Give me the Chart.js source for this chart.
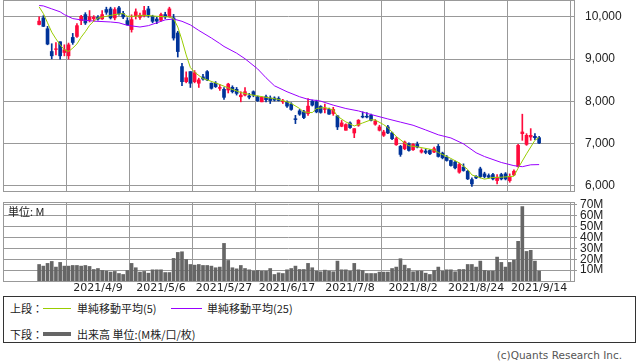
<!DOCTYPE html>
<html>
<head>
<meta charset="utf-8">
<script src="https://cdn.jsdelivr.net/npm/chart.js@4.4.0/dist/chart.umd.min.js"></script>
<style>
body{margin:0;background:#fff;width:638px;height:362px;position:relative;overflow:hidden;font-family:"Noto Sans CJK JP","Noto Sans",sans-serif;}
canvas{position:absolute;left:0;}
#c1{top:0;}
#c2{top:196px;}
.t{position:absolute;font-size:11px;line-height:12px;color:#222;white-space:nowrap;}
.ln{position:absolute;}
#box{position:absolute;left:3px;top:296px;width:631px;height:45px;border:1px solid #333;}
</style>
</head>
<body>
<canvas id="c1" width="638" height="195"></canvas>
<canvas id="c2" width="638" height="100"></canvas>
<div class="t" style="left:8px;top:205px;">単位: M</div>
<div id="box"></div>
<div class="t" style="left:10px;top:302px;">上段：</div>
<div class="ln" style="left:43px;top:308px;width:28px;height:1px;background:#99cc00;"></div>
<div class="t" style="left:77px;top:302px;">単純移動平均(5)</div>
<div class="ln" style="left:171px;top:308px;width:31px;height:1px;background:#9900ff;"></div>
<div class="t" style="left:207px;top:302px;">単純移動平均(25)</div>
<div class="t" style="left:10px;top:328px;">下段：</div>
<div class="ln" style="left:43px;top:332px;width:28px;height:4px;background:#666;"></div>
<div class="t" style="left:77px;top:328px;">出来高 単位:(M株/口/枚)</div>
<div class="t" style="right:16px;top:349px;color:#555;font-family:'DejaVu Sans',sans-serif;font-size:10.5px;">(c)Quants Research Inc.</div>
<script>
// 日付ラベル (15営業日ごと)
const tickIdx = [14, 29, 44, 59, 74, 89, 104, 119];
const tickLabels = ['2021/4/9', '2021/5/6', '2021/5/27', '2021/6/17', '2021/7/8', '2021/8/2', '2021/8/24', '2021/9/14'];
const priceTicks = [6000, 7000, 8000, 9000, 10000];
const volTicks = [10, 20, 30, 40, 50, 60, 70];

// 四本値
const opens = [9820,9976,9720,9181,9230,9412,9158,9079,9514,9538,9912,10055,9920,9960,9990,9952,10174,10190,9976,10214,
  10080,9912,9700,10031,9990,10031,10190,10014,9950,9920,10055,10014,9976,9620,8824,8467,8705,8467,8430,8580,
  8705,8430,8430,8310,8286,8270,8333,8286,8110,8150,8130,8230,8110,7990,8110,8080,8080,8070,7990,7990,
  7936,7590,7777,7753,7713,8007,7991,7880,7810,7810,7713,7658,7412,7317,7491,7253,7436,7650,7650,7674,
  7460,7317,7198,7396,7253,6975,6936,6880,7000,6856,6983,6801,6825,6840,6801,6936,6777,6682,6602,6563,
  6325,6444,6348,6150,6222,6404,6285,6245,6269,6126,6269,6285,6126,6261,6459,7237,6983,7158,7174,7142];
const highs = [10000,10030,9776,9365,9395,9412,9340,9381,9610,9840,10040,10100,10150,10030,10030,10150,10230,10230,10220,10250,
  10130,9980,10050,10190,10090,10250,10250,10040,9990,10090,10110,10230,10060,9660,8900,8700,8705,8730,8550,8640,
  8730,8440,8470,8400,8330,8430,8370,8330,8230,8330,8190,8250,8130,8110,8150,8130,8110,8110,8050,8015,
  7970,7670,7810,7790,8070,8030,8030,7900,7935,7840,7860,7670,7550,7470,7515,7356,7570,7753,7737,7700,
  7570,7436,7317,7436,7277,7158,6960,7063,7020,7000,7039,6880,6872,6860,6920,6983,6800,6720,6618,6586,
  6539,6523,6364,6190,6245,6444,6325,6285,6300,6269,6300,6316,6285,6380,6983,7698,7237,7356,7237,7174];
const lows = [9810,9770,9340,9007,9100,9000,9079,9000,9350,9514,9817,9820,9880,9900,9920,9940,10060,9950,9930,10040,
  9960,9800,9640,9950,9940,10000,9990,9860,9840,9900,9960,9990,9450,9050,8372,8440,8330,8440,8330,8500,
  8490,8290,8330,8260,8050,8200,8200,8150,7990,8130,8060,8110,8000,7990,7990,7950,8010,8010,7950,7860,
  7790,7475,7670,7590,7670,7890,7730,7720,7730,7690,7670,7333,7400,7317,7360,7142,7412,7610,7610,7540,
  7436,7300,7170,7237,7094,6960,6700,6856,6820,6840,6900,6777,6761,6740,6790,6682,6640,6586,6467,6404,
  6300,6348,6150,5991,6174,6190,6190,6182,6142,6047,6142,6142,6087,6245,6444,7079,6960,7079,7095,6999];
const closes = [9900,9776,9357,9079,9245,9079,9222,9340,9395,9793,10014,9857,10000,9990,9950,10055,10110,9976,10174,10078,
  10000,9817,9936,10120,10040,10150,10055,9895,9900,10055,10000,10190,9500,9180,8467,8560,8430,8680,8510,8530,
  8510,8310,8350,8330,8096,8410,8230,8190,8150,8230,8100,8150,8015,8096,8040,8020,8030,8020,8010,7890,
  7810,7570,7698,7618,7888,7912,7753,7740,7830,7700,7810,7396,7491,7452,7380,7356,7555,7630,7630,7555,
  7531,7396,7277,7253,7118,7118,6745,7039,6840,6983,6920,6841,6793,6761,6880,6698,6666,6602,6483,6428,
  6507,6364,6166,6047,6190,6221,6222,6206,6166,6206,6166,6166,6221,6348,6959,7277,7198,7198,7142,7015];

// 出来高 (M)
const volumes = [15.2,13.7,16.2,18.0,12.8,17.1,13.7,13.7,14.3,14.3,13.7,14.3,13.4,10.6,11.5,9.7,9.1,8.2,8.8,6.9,
  6.0,9.7,16.2,12.2,8.2,8.8,7.2,10.3,10.3,10.3,7.8,7.8,20.8,26.3,26.9,19.8,15.2,14.6,15.2,14.3,
  14.3,13.7,12.2,12.8,34.6,18.9,12.2,11.2,14.3,11.5,10.3,9.1,9.7,9.1,9.1,11.5,6.0,7.5,6.9,10.3,
  11.5,13.7,10.6,10.6,16.2,12.2,9.1,8.5,10.0,9.1,8.5,18.3,10.3,10.3,9.1,16.2,10.3,9.7,6.9,6.9,
  6.9,8.2,8.2,8.2,11.5,12.8,20.5,14.6,11.5,8.5,9.1,9.1,7.2,6.0,9.7,12.8,9.1,10.3,10.3,8.5,
  10.6,10.6,15.2,15.2,12.8,18.3,9.7,9.1,9.1,22.0,17.1,12.8,17.1,19.2,36.5,68.5,27.2,28.2,18.3,9.1];

// 移動平均 [index, value]
const ma5 = [[0,10237],[1,10080],[2,9860],[3,9640],[4,9480],[5,9340],[6,9222],[7,9182],[8,9261],[9,9360],
  [10,9520],[11,9650],[12,9800],[13,9900],[14,9975],[16,10015],[18,10055],[20,10079],[21,10015],[23,10015],
  [25,10039],[28,10015],[31,9999],[32,9960],[33,9760],[34,9450],[35,9100],[36,8800],[37,8690],[39,8540],
  [40,8510],[43,8400],[45,8320],[48,8210],[50,8166],[52,8130],[55,8080],[57,8047],[59,7990],[60,7952],
  [62,7832],[63,7750],[65,7735],[66,7832],[68,7856],[70,7800],[71,7650],[73,7515],[75,7420],[77,7490],
  [79,7565],[80,7560],[82,7450],[83,7380],[85,7170],[87,7015],[88,6950],[90,6925],[94,6850],[95,6790],
  [98,6650],[100,6545],[102,6390],[103,6260],[106,6160],[108,6200],[110,6206],[113,6230],[114,6420],[116,6760],
  [118,7080],[119,7150]];
const ma25 = [[0,10270],[1,10260],[3,10190],[5,10120],[6,10055],[8,9960],[10,9930],[13,9900],[17,9880],[19,9860],
  [21,9800],[24,9761],[26,9793],[28,9860],[30,9930],[32,9950],[34,9896],[36,9810],[38,9680],[41,9500],
  [43,9370],[44,9300],[47,9142],[49,9010],[52,8770],[54,8560],[56,8370],[59,8229],[62,8110],[64,8050],
  [67,8007],[70,7912],[73,7832],[76,7775],[79,7690],[83,7585],[86,7510],[89,7436],[92,7325],[95,7210],
  [98,7135],[101,6995],[104,6785],[106,6695],[110,6555],[113,6480],[115,6455],[117,6500],[119,6505]];

const XMIN = -8.6, XMAX = 127.3;
const UP = '#ff0a3c', DOWN = '#003399', GRID = '#999';

const frame = {
  id: 'frame',
  beforeDatasetsDraw(chart) {
    const a = chart.chartArea, ctx = chart.ctx;
    ctx.save();
    ctx.strokeStyle = GRID;
    ctx.lineWidth = 1;
    ctx.strokeRect(Math.round(a.left) + 0.5, Math.round(a.top) + 0.5, Math.round(a.right - a.left), Math.round(a.bottom - a.top));
    ctx.restore();
  }
};

// 軸の余白を無効化して描画領域を固定する
function fixY(s) { s.width = 64; s.paddingTop = 0; s.paddingBottom = 0; }
function fixX(h) { return s => { s.height = h; s.paddingLeft = 0; s.paddingRight = 0; }; }

const colors = closes.map((c, i) => c >= opens[i] ? UP : DOWN);
const idx = closes.map((c, i) => i);

new Chart(document.getElementById('c1'), {
  type: 'bar',
  data: {
    datasets: [
      { type: 'line', data: ma5.map(p => ({x: p[0], y: p[1]})), borderColor: '#99cc00', borderWidth: 1, pointRadius: 0, tension: 0, order: 0 },
      { type: 'line', data: ma25.map(p => ({x: p[0], y: p[1]})), borderColor: '#9900ff', borderWidth: 1, pointRadius: 0, tension: 0, order: 0 },
      { data: idx.map(i => ({x: i, y: [opens[i], closes[i]]})), backgroundColor: colors, barThickness: 3, grouped: false, order: 1 },
      { data: idx.map(i => ({x: i, y: [lows[i], highs[i]]})), backgroundColor: colors, barThickness: 1, grouped: false, order: 2 }
    ]
  },
  options: {
    responsive: false,
    animation: false,
    layout: { autoPadding: false, padding: { left: 3, top: 0, right: 0, bottom: 4 } },
    plugins: { legend: { display: false }, tooltip: { enabled: false } },
    scales: {
      x: {
        type: 'linear', min: XMIN, max: XMAX, offset: false,
        afterBuildTicks: s => { s.ticks = tickIdx.map(v => ({value: v})); },
        afterFit: fixX(0),
        ticks: { display: false },
        grid: { color: GRID, drawTicks: false },
        border: { display: false }
      },
      y: {
        position: 'right', min: 5880, max: 10400,
        afterBuildTicks: s => { s.ticks = priceTicks.map(v => ({value: v})); },
        afterFit: fixY,
        ticks: { callback: v => v.toLocaleString('en-US'), color: '#222', padding: 11, autoSkip: false, font: { family: 'Liberation Sans', size: 12 } },
        grid: { color: GRID, drawTicks: false },
        border: { display: false }
      }
    }
  },
  plugins: [frame]
});

new Chart(document.getElementById('c2'), {
  type: 'bar',
  data: {
    datasets: [
      { data: idx.map(i => ({x: i, y: volumes[i]})), backgroundColor: '#666', barThickness: 3 }
    ]
  },
  options: {
    responsive: false,
    animation: false,
    layout: { autoPadding: false, padding: { left: 3, top: 6, right: 0, bottom: 0 } },
    plugins: { legend: { display: false }, tooltip: { enabled: false } },
    scales: {
      x: {
        type: 'linear', min: XMIN, max: XMAX, offset: false,
        afterBuildTicks: s => { s.ticks = tickIdx.map(v => ({value: v})); },
        afterFit: fixX(15),
        ticks: { callback: v => tickLabels[tickIdx.indexOf(v)], autoSkip: false, maxRotation: 0, color: '#222', padding: 1, font: { family: 'DejaVu Sans', size: 11 } },
        grid: { color: GRID, drawTicks: false },
        border: { display: false }
      },
      y: {
        position: 'right', min: 0, max: 72.7,
        afterBuildTicks: s => { s.ticks = volTicks.map(v => ({value: v})); },
        afterFit: fixY,
        ticks: { callback: v => v + 'M', color: '#222', padding: 3, autoSkip: false, font: { family: 'Liberation Sans', size: 12 } },
        grid: { color: GRID, tickLength: 3, tickColor: GRID },
        border: { display: false }
      }
    }
  },
  plugins: [frame]
});
</script>
</body>
</html>
